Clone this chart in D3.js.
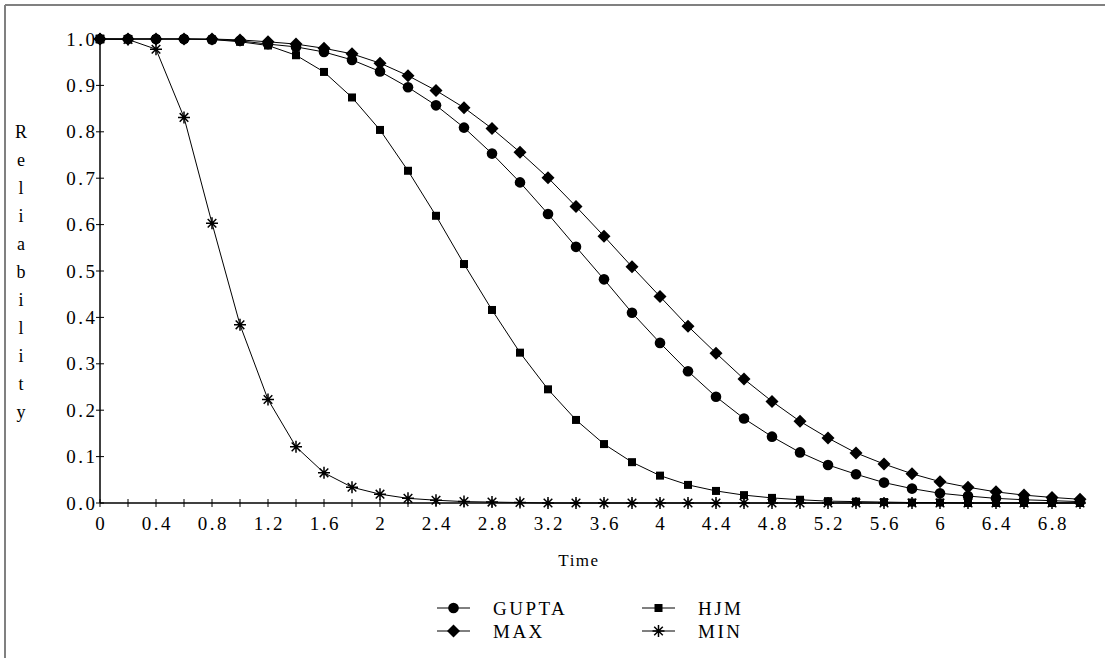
<!DOCTYPE html>
<html>
<head>
<meta charset="utf-8">
<script src="https://cdn.jsdelivr.net/npm/d3@7"></script>
<style>
  body { margin: 0; background: #fff; }
  text { font-family: "Liberation Serif", "Times New Roman", serif; fill: #000; }
</style>
</head>
<body>
<div id="chart"></div>
<script>
// time steps 0 .. 7.0 by 0.2
const times = [0, 0.2, 0.4, 0.6, 0.8, 1.0, 1.2, 1.4, 1.6, 1.8, 2.0, 2.2, 2.4, 2.6, 2.8, 3.0, 3.2, 3.4,
  3.6, 3.8, 4.0, 4.2, 4.4, 4.6, 4.8, 5.0, 5.2, 5.4, 5.6, 5.8, 6.0, 6.2, 6.4, 6.6, 6.8, 7.0];

const gupta = [1.000, 1.000, 1.000, 1.000, 0.999, 0.996, 0.989, 0.983, 0.972, 0.955, 0.930, 0.896,
  0.857, 0.809, 0.753, 0.691, 0.623, 0.552, 0.482, 0.410, 0.345, 0.284, 0.229, 0.182, 0.143, 0.109,
  0.082, 0.062, 0.044, 0.031, 0.021, 0.015, 0.010, 0.007, 0.005, 0.003];
const maxR = [1.000, 1.000, 1.000, 1.000, 1.000, 0.998, 0.994, 0.989, 0.980, 0.968, 0.948, 0.921,
  0.889, 0.852, 0.807, 0.756, 0.701, 0.639, 0.575, 0.509, 0.445, 0.381, 0.323, 0.267, 0.219, 0.176,
  0.140, 0.108, 0.084, 0.063, 0.046, 0.034, 0.024, 0.017, 0.012, 0.008];
const hjm = [1.000, 1.000, 1.000, 1.000, 0.999, 0.994, 0.986, 0.965, 0.929, 0.874, 0.804, 0.716,
  0.619, 0.515, 0.416, 0.324, 0.245, 0.179, 0.127, 0.088, 0.059, 0.039, 0.026, 0.017, 0.011, 0.007,
  0.004, 0.003, 0.002, 0.001, 0.001, 0.000, 0.000, 0.000, 0.000, 0.000];
const minR = [1.000, 0.999, 0.978, 0.831, 0.603, 0.384, 0.223, 0.121, 0.065, 0.034, 0.019, 0.010,
  0.006, 0.003, 0.002, 0.001, 0.000, 0.000, 0.000, 0.000, 0.000, 0.000, 0.000, 0.000, 0.000, 0.000,
  0.000, 0.000, 0.000, 0.000, 0.000, 0.000, 0.000, 0.000, 0.000, 0.000];

const yTicks = [0, 0.1, 0.2, 0.3, 0.4, 0.5, 0.6, 0.7, 0.8, 0.9, 1.0];
const xTickLabels = [0, 0.4, 0.8, 1.2, 1.6, 2, 2.4, 2.8, 3.2, 3.6, 4, 4.4, 4.8, 5.2, 5.6, 6, 6.4, 6.8];

const seriesList = [
  { name: "GUPTA", values: gupta, marker: "circle" },
  { name: "HJM", values: hjm, marker: "square" },
  { name: "MAX", values: maxR, marker: "diamond" },
  { name: "MIN", values: minR, marker: "star" }
];

const width = 1105, height = 658;
const svg = d3.select("#chart").append("svg")
  .attr("width", width).attr("height", height);

// outer frame (only top and left edges visible)
svg.append("line").attr("x1", 5).attr("y1", 5).attr("x2", width).attr("y2", 5)
  .attr("stroke", "#808080").attr("stroke-width", 2);
svg.append("line").attr("x1", 5).attr("y1", 5).attr("x2", 5).attr("y2", height)
  .attr("stroke", "#808080").attr("stroke-width", 2);

const x = d3.scaleLinear().domain([0, 7]).range([100, 1080]);
const y = d3.scaleLinear().domain([0, 1]).range([503, 39]);

// axes lines
svg.append("line").attr("x1", x(0)).attr("x2", 1085).attr("y1", y(0)).attr("y2", y(0))
  .attr("stroke", "#000").attr("stroke-width", 1.5);
svg.append("line").attr("x1", x(0)).attr("x2", x(0)).attr("y1", y(0)).attr("y2", y(1))
  .attr("stroke", "#000").attr("stroke-width", 1.5);

const ls = 2.5; // wide letter spacing like the original export

// x ticks every 0.2, crossing the axis
svg.selectAll(".xtick").data(times).enter().append("line")
  .attr("x1", d => x(d)).attr("x2", d => x(d))
  .attr("y1", y(0) - 4).attr("y2", y(0) + 4)
  .attr("stroke", "#000").attr("stroke-width", 1);
svg.selectAll(".xlab").data(xTickLabels).enter().append("text")
  .attr("x", d => x(d) + ls / 2).attr("y", 530)
  .attr("text-anchor", "middle").style("font-size", "19px").style("letter-spacing", ls + "px")
  .text(d => String(d));

// y ticks
svg.selectAll(".ytick").data(yTicks).enter().append("line")
  .attr("x1", x(0) - 4).attr("x2", x(0) + 4)
  .attr("y1", d => y(d)).attr("y2", d => y(d))
  .attr("stroke", "#000").attr("stroke-width", 1);
svg.selectAll(".ylab").data(yTicks).enter().append("text")
  .attr("x", 95 + ls).attr("y", d => y(d) + 6.5)
  .attr("text-anchor", "end").style("font-size", "19px").style("letter-spacing", ls + "px")
  .text(d => d.toFixed(1));

// axis titles
const yTitle = "Reliability".split("");
svg.selectAll(".ytitle").data(yTitle).enter().append("text")
  .attr("x", 21).attr("y", (d, i) => 138 + i * 28)
  .attr("text-anchor", "middle").style("font-size", "18px")
  .text(d => d);
svg.append("text").attr("x", 579).attr("y", 566)
  .attr("text-anchor", "middle").style("font-size", "17px").style("letter-spacing", "1.5px")
  .text("Time");

// marker drawing
function drawMarker(g, type, cx, cy) {
  if (type === "circle") {
    g.append("circle").attr("cx", cx).attr("cy", cy).attr("r", 5.3).attr("fill", "#000");
  } else if (type === "square") {
    g.append("rect").attr("x", cx - 4).attr("y", cy - 4).attr("width", 8).attr("height", 8).attr("fill", "#000");
  } else if (type === "diamond") {
    const s = 6.5;
    g.append("path").attr("d", `M${cx},${cy - s}L${cx + s},${cy}L${cx},${cy + s}L${cx - s},${cy}Z`).attr("fill", "#000");
  } else if (type === "star") {
    const s = 6, d = 4.3;
    g.append("path")
      .attr("d", `M${cx - s},${cy}L${cx + s},${cy}M${cx},${cy - s}L${cx},${cy + s}` +
        `M${cx - d},${cy - d}L${cx + d},${cy + d}M${cx - d},${cy + d}L${cx + d},${cy - d}`)
      .attr("stroke", "#000").attr("stroke-width", 1.5).attr("fill", "none");
  }
}

const line = d3.line().x(d => x(d[0])).y(d => y(d[1]));

seriesList.forEach(s => {
  const pts = times.map((t, i) => [t, s.values[i]]);
  svg.append("path").datum(pts).attr("d", line)
    .attr("fill", "none").attr("stroke", "#000").attr("stroke-width", 1);
  const g = svg.append("g");
  pts.forEach(p => drawMarker(g, s.marker, x(p[0]), y(p[1])));
});

// legend
const legendPos = [
  { name: "GUPTA", marker: "circle", lx: 437, ly: 608 },
  { name: "HJM", marker: "square", lx: 642, ly: 608 },
  { name: "MAX", marker: "diamond", lx: 437, ly: 631 },
  { name: "MIN", marker: "star", lx: 642, ly: 631 }
];
legendPos.forEach(l => {
  const g = svg.append("g");
  g.append("line").attr("x1", l.lx).attr("x2", l.lx + 33).attr("y1", l.ly).attr("y2", l.ly)
    .attr("stroke", "#000").attr("stroke-width", 1);
  drawMarker(g, l.marker, l.lx + 16.5, l.ly);
  g.append("text").attr("x", l.lx + 56).attr("y", l.ly + 6.5)
    .style("font-size", "19px").style("letter-spacing", "2.5px").text(l.name);
});
</script>
</body>
</html>
